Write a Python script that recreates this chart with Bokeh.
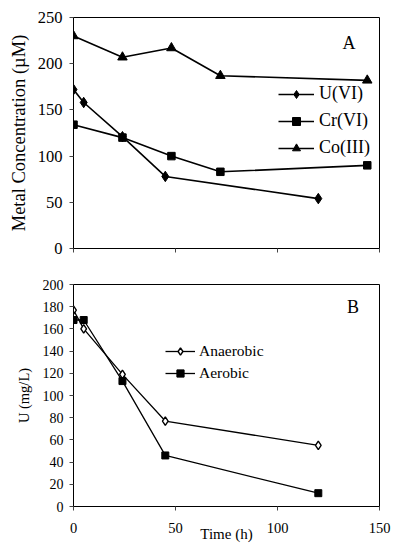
from bokeh.plotting import figure
from bokeh.layouts import column
from bokeh.models import FixedTicker, Legend, LegendItem, Label, Range1d
from bokeh.embed import file_html
from bokeh.resources import INLINE

# Panel A data
u_t = [0, 5, 24, 45, 120]
u_c = [172, 158, 121, 78, 54]
cr_t = [0, 24, 48, 72, 144]
cr_c = [134, 120, 100, 83, 90]
co_t = [0, 24, 48, 72, 144]
co_c = [230, 207, 217, 187, 182]

# Panel B data
an_t = [0, 5, 24, 45, 120]
an_u = [177, 160, 119, 77, 55]
ae_t = [0, 5, 24, 45, 120]
ae_u = [168, 168, 113, 46, 12]

a_yticks = [0, 50, 100, 150, 200, 250]
b_yticks = [0, 20, 40, 60, 80, 100, 120, 140, 160, 180, 200]
xticks = [0, 50, 100, 150]

FONT = "Liberation Serif"


def style(p, ytick_size, xtick_size=None):
    p.grid.visible = False
    p.outline_line_color = "black"
    p.outline_line_width = 1
    p.background_fill_color = "white"
    p.border_fill_color = "white"
    for ax in [p.xaxis[0], p.yaxis[0]]:
        ax.axis_line_color = "black"
        ax.axis_line_width = 1
        ax.major_tick_line_color = "#444444"
        ax.major_tick_in = 0
        ax.major_tick_out = 4
        ax.minor_tick_line_color = None
        ax.major_label_text_font = FONT
        ax.major_label_text_color = "black"
        ax.axis_label_text_font = FONT
        ax.axis_label_text_font_style = "normal"
        ax.axis_label_text_color = "black"
    p.yaxis[0].major_label_text_font_size = ytick_size
    if xtick_size:
        p.xaxis[0].major_label_text_font_size = xtick_size


# ---------- Panel A ----------
pa = figure(width=392, height=265, output_backend="svg", toolbar_location=None,
            x_range=Range1d(0, 150), y_range=Range1d(0, 250),
            min_border_left=73, min_border_right=12, min_border_top=17, min_border_bottom=17)
style(pa, "16.5px")
pa.xaxis[0].ticker = FixedTicker(ticks=xticks)
pa.xaxis[0].major_label_overrides = {t: "" for t in xticks}
pa.xaxis[0].major_label_standoff = 0
pa.yaxis[0].ticker = FixedTicker(ticks=a_yticks)
pa.yaxis[0].major_label_standoff = 7
pa.yaxis[0].axis_label = "Metal Concentration (\u00b5M)"
pa.yaxis[0].axis_label_text_font_size = "18.5px"
pa.yaxis[0].axis_label_standoff = 6

lu = pa.line(u_t, u_c, line_color="black", line_width=1.6)
su = pa.scatter(u_t, u_c, marker="diamond", size=10.5,
                fill_color="black", line_color="black")
lcr = pa.line(cr_t, cr_c, line_color="black", line_width=1.6)
scr = pa.scatter(cr_t, cr_c, marker="square", size=7.5, fill_color="black", line_color="black")
lco = pa.line(co_t, co_c, line_color="black", line_width=1.6)
sco = pa.scatter(co_t, co_c, marker="triangle", size=9.5, fill_color="black", line_color="black")

leg_a = Legend(items=[
    LegendItem(label="U(VI)", renderers=[lu, su]),
    LegendItem(label="Cr(VI)", renderers=[lcr, scr]),
    LegendItem(label="Co(III)", renderers=[lco, sco]),
], location=(205, 90), orientation="vertical")
leg_a.glyph_width = 36
leg_a.glyph_height = 20
leg_a.label_height = 20
leg_a.spacing = 6
leg_a.padding = 0
leg_a.margin = 0
leg_a.label_standoff = 5
leg_a.border_line_alpha = 0
leg_a.background_fill_alpha = 0
leg_a.label_text_font = FONT
leg_a.label_text_font_size = "18px"
leg_a.label_text_color = "black"
pa.add_layout(leg_a)

pa.add_layout(Label(x=135, y=222, text="A", text_font=FONT, text_font_size="18px",
                    text_align="center", text_baseline="middle", text_color="black"))

# ---------- Panel B ----------
pb = figure(width=392, height=281, output_backend="svg", toolbar_location=None,
            x_range=Range1d(0, 150), y_range=Range1d(0, 200),
            min_border_left=70, min_border_right=13, min_border_top=19, min_border_bottom=40)
style(pb, "14px", "14.5px")
pb.xaxis[0].ticker = FixedTicker(ticks=xticks)
pb.xaxis[0].major_label_standoff = 12
pb.xaxis[0].axis_label = "Time (h)"
pb.xaxis[0].axis_label_text_font_size = "15px"
pb.xaxis[0].axis_label_standoff = -10
pb.yaxis[0].ticker = FixedTicker(ticks=b_yticks)
pb.yaxis[0].major_label_standoff = 6
pb.yaxis[0].axis_label = "U (mg/L)"
pb.yaxis[0].axis_label_text_font_size = "14.5px"
pb.yaxis[0].axis_label_standoff = 8

lan = pb.line(an_t, an_u, line_color="black", line_width=1.3)
san = pb.scatter(an_t, an_u, marker="diamond", size=8.5, fill_color="white",
                 line_color="black", line_width=1.4)
lae = pb.line(ae_t, ae_u, line_color="black", line_width=1.3)
sae = pb.scatter(ae_t, ae_u, marker="square", size=7, fill_color="black", line_color="black")

leg_b = Legend(items=[
    LegendItem(label="Anaerobic", renderers=[lan, san]),
    LegendItem(label="Aerobic", renderers=[lae, sae]),
], location=(92, 124), orientation="vertical")
leg_b.glyph_width = 30
leg_b.glyph_height = 18
leg_b.label_height = 18
leg_b.spacing = 4
leg_b.padding = 0
leg_b.margin = 0
leg_b.label_standoff = 4
leg_b.border_line_alpha = 0
leg_b.background_fill_alpha = 0
leg_b.label_text_font = FONT
leg_b.label_text_font_size = "15.5px"
leg_b.label_text_color = "black"
pb.add_layout(leg_b)

pb.add_layout(Label(x=137, y=180, text="B", text_font=FONT, text_font_size="18px",
                    text_align="center", text_baseline="middle", text_color="black"))

layout = column(pa, pb, spacing=0)
open("out.html", "w").write(file_html(layout, INLINE))
